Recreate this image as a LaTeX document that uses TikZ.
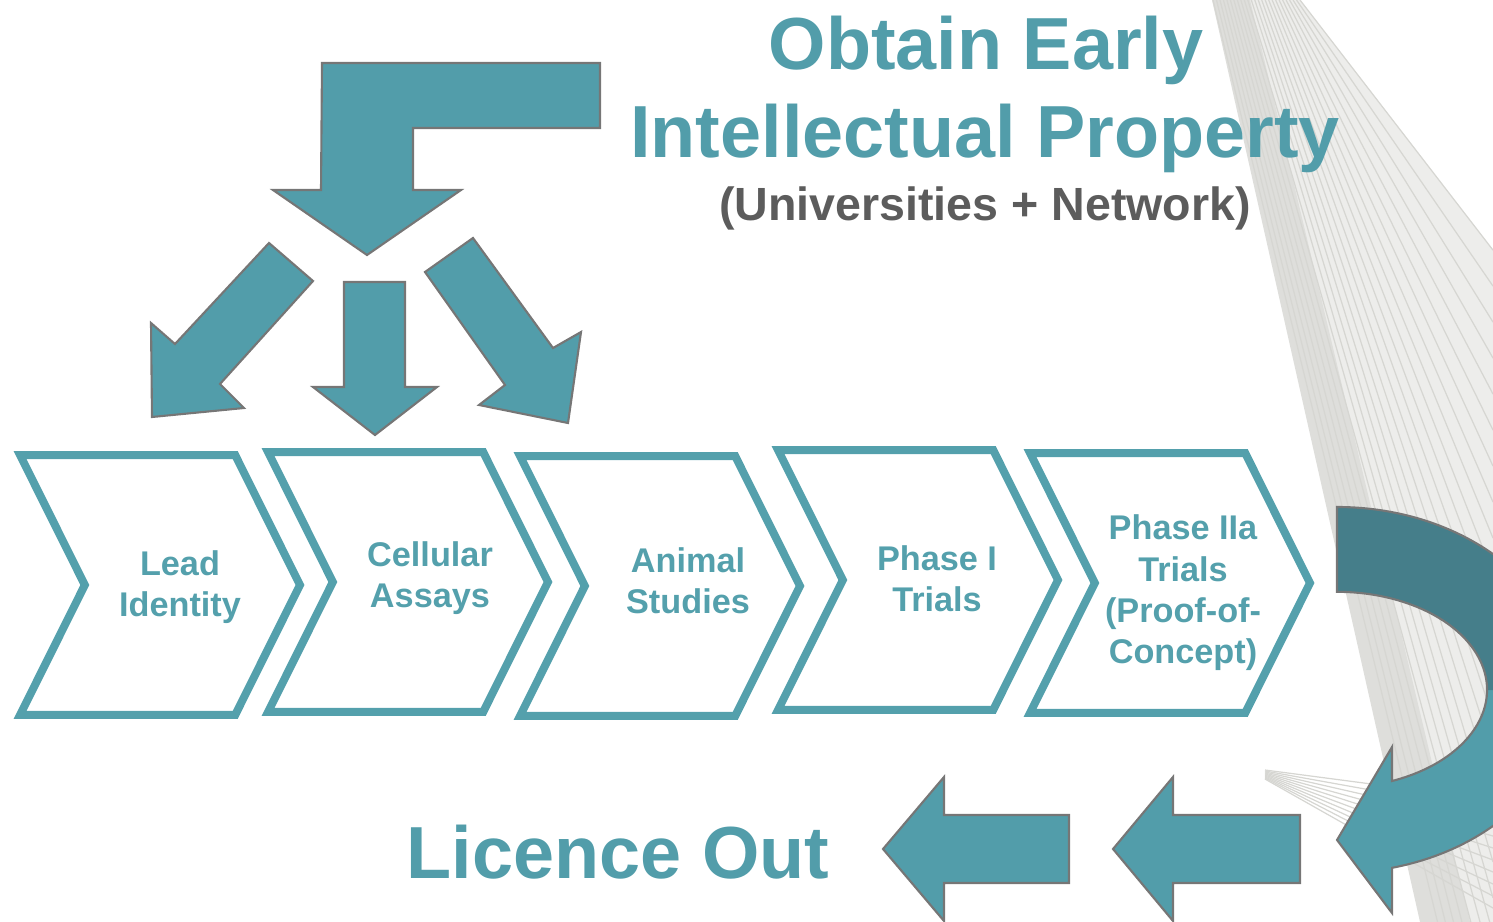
\documentclass[tikz,border=0pt]{standalone}
\usepackage{fontspec}
\setmainfont{Liberation Sans}
\usetikzlibrary{shapes.symbols, positioning}
\definecolor{myteal}{RGB}{82,157,170}
\definecolor{mytealdark}{RGB}{69,126,138}
\definecolor{mytext}{RGB}{84,160,172}
\definecolor{mygrey}{RGB}{92,92,92}
\definecolor{myedge}{RGB}{118,118,118}
\definecolor{mycable}{RGB}{214,214,210}

\begin{document}
\begin{tikzpicture}[
    x=0.02cm, y=-0.02cm,
    stage/.style={signal, signal to=east, signal from=west, signal pointer angle=127, draw=mytext, line width=0.16cm, minimum width=5.6cm, minimum height=5.2cm, inner sep=0pt},
    stagetext/.style={text=mytext, font=\bfseries\fontsize{19.5}{23.5}\selectfont, align=center, inner sep=0pt},
    title/.style={text=myteal, font=\bfseries\fontsize{42}{50}\selectfont, anchor=base, inner sep=0pt},
    subtitle/.style={text=mygrey, font=\bfseries\fontsize{26.5}{32}\selectfont, anchor=base, inner sep=0pt},
    blockarrow/.style={fill=myteal, draw=myedge, line width=1.2pt, line join=miter}
]
\useasboundingbox (0,0) rectangle (1493,922);

% Cable fan in the background
\begin{scope}
\clip (0,0) rectangle (1493,922);
\fill[mycable!45] (1212,0) -- (1300,0) -- (1493,250) -- (1493,922) -- (1440,922) -- cycle;
\fill[mycable!80] (1212,0) -- (1250,0) -- (1470,922) -- (1420,922) -- cycle;
\foreach \t in {0,0.04,...,1.0}
    \draw[mycable, line width=0.7pt] (1213+87*\t,0) -- (1493,1150-900*\t);
\foreach \t in {0,0.1,...,1.0}
    \draw[mycable, line width=0.7pt] (1265,770+10*\t) -- (1493,800+120*\t);
\end{scope}

% Title
\node[title] (obtain) at (986,70) {Obtain Early};
\node[title] (ip) at (985,158) {Intellectual Property};
\node[subtitle] (network) at (985,220) {(Universities + Network)};

% Bent arrow splitting into three
\filldraw[blockarrow] (322,63) -- (600,63) -- (600,128) -- (413,128) -- (413,190) -- (461,190) -- (367,255) -- (273,190) -- (321,190) -- cycle;
\filldraw[blockarrow] (269,243) -- (313,281) -- (220,384) -- (244,408) -- (152,417) -- (151,323) -- (175,344) -- cycle;
\filldraw[blockarrow] (344,282) -- (405,282) -- (405,387) -- (437,387) -- (375,435) -- (313,387) -- (344,387) -- cycle;
\filldraw[blockarrow] (473,238) -- (553,348) -- (581,332) -- (568,423) -- (479,405) -- (505,385) -- (425,272) -- cycle;

% Pipeline stages
\node[stage] (lead) at (160,585) {};
\node[stage] (cellular) at (408,582) {};
\node[stage] (animal) at (660,586) {};
\node[stage] (phaseone) at (918,580) {};
\node[stage] (phasetwo) at (1170,583) {};

\node[stagetext] (leadtext) at ([xshift=0.4cm, yshift=-0.04cm]lead.center) {Lead\\Identity};
\node[stagetext] (cellulartext) at ([xshift=0.44cm, yshift=0.08cm]cellular.center) {Cellular\\Assays};
\node[stagetext] (animaltext) at ([xshift=0.56cm, yshift=0.1cm]animal.center) {Animal\\Studies};
\node[stagetext] (phaseonetext) at ([xshift=0.38cm, yshift=0.02cm]phaseone.center) {Phase I\\Trials};
\node[stagetext] (phasetwotext) at ([xshift=0.26cm, yshift=-0.2cm]phasetwo.center) {Phase IIa\\Trials\\(Proof-of-\\Concept)};

% Curved arrow coming back
\begin{scope}
\clip (0,0) rectangle (1493,922);
\fill[myteal] (1337,507) arc[start angle=-90, end angle=76.3, x radius=233, y radius=183] -- (1392,913) -- (1337,840) -- (1392,747) -- (1392,781) arc[start angle=68.5, end angle=-90, x radius=150, y radius=98] -- cycle;
\fill[mytealdark] (1337,507) arc[start angle=-90, end angle=0, x radius=233, y radius=183] -- (1487,690) arc[start angle=0, end angle=-90, x radius=150, y radius=98] -- cycle;
\draw[myedge, line width=1.2pt, line join=miter] (1337,507) arc[start angle=-90, end angle=76.3, x radius=233, y radius=183] -- (1392,913) -- (1337,840) -- (1392,747) -- (1392,781) arc[start angle=68.5, end angle=-90, x radius=150, y radius=98] -- cycle;
\end{scope}

% Licence out arrows
\filldraw[blockarrow] (1113,849) -- (1173,777) -- (1173,815) -- (1300,815) -- (1300,883) -- (1173,883) -- (1173,921) -- cycle;
\filldraw[blockarrow] (883,849) -- (944,777) -- (944,815) -- (1069,815) -- (1069,883) -- (944,883) -- (944,921) -- cycle;
\node[title] (licence) at (618,878) {Licence Out};

\end{tikzpicture}
\end{document}
